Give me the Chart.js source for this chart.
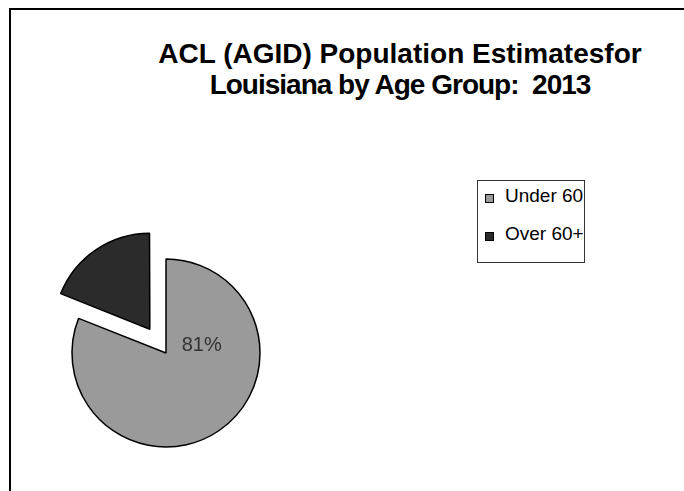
<!DOCTYPE html>
<html>
<head>
<meta charset="utf-8">
<title>ACL (AGID) Population Estimates for Louisiana by Age Group: 2013</title>
<script src="https://cdn.jsdelivr.net/npm/chart.js@4.4.1/dist/chart.umd.min.js"></script>
<style>
  html, body {
    margin: 0;
    padding: 0;
    background: #fff;
  }

  body {
    position: relative;
    width: 684px;
    height: 491px;
    overflow: hidden;
    font-family: "Liberation Sans", Arial, sans-serif;
  }

  .frame {
    position: absolute;
    left: 9px;
    top: 8px;
    width: 800px;
    height: 600px;
    border-left: 2px solid #000;
    border-top: 2px solid #000;
  }

  .chart-title {
    position: absolute;
    left: 0;
    top: 38px;
    width: 800px;
    text-align: center;
    font-weight: bold;
    font-size: 28px;
    line-height: 31px;
    color: #000;
    white-space: pre;
  }

  .chart-title .second {
    letter-spacing: -1px;
  }

  .pie-wrap {
    position: absolute;
    left: 11px;
    top: 142px;
    width: 310px;
    height: 422px;
  }

  .legend {
    position: absolute;
    left: 477px;
    top: 180px;
    width: 108px;
    height: 83px;
    border: 1px solid #333;
    padding-top: 5px;
    box-sizing: border-box;
  }

  .legend-item {
    position: relative;
    height: 20px;
    line-height: 20px;
    font-size: 19px;
    color: #000;
    padding-left: 27px;
    white-space: nowrap;
    margin-bottom: 18px;
  }

  .legend-box {
    position: absolute;
    left: 7px;
    top: 8px;
    width: 7px;
    height: 7px;
    border: 1px solid #000;
  }
</style>
</head>
<body>
<div class="frame"></div>
<div class="chart-title">ACL (AGID) Population Estimatesfor
<span class="second">Louisiana by Age Group:  2013</span></div>
<div class="pie-wrap"><canvas id="pieChart"></canvas></div>
<div class="legend" id="pieLegend"></div>

<script>
const ageGroups = ["Under 60", "Over 60+"];

const populationShare = [81, 19];

const sliceColors = ["#9a9a9a", "#2b2b2b"];

// label only the big slice, like the original slide
const percentLabel = {
  id: "percentLabel",
  afterDatasetsDraw(chart) {
    const ctx = chart.ctx;
    const arc = chart.getDatasetMeta(0).data[0];
    const total = populationShare.reduce((a, b) => a + b, 0);
    const text = Math.round((populationShare[0] / total) * 100) + "%";

    ctx.save();
    ctx.font = "20px 'Liberation Sans', Arial, sans-serif";
    ctx.fillStyle = "#333";
    ctx.textAlign = "center";
    ctx.textBaseline = "middle";
    ctx.fillText(
      text,
      arc.x + arc.outerRadius * 0.38,
      arc.y - arc.outerRadius * 0.08,
    );
    ctx.restore();
  },
};

const pieChart = new Chart(document.getElementById("pieChart"), {
  type: "pie",
  data: {
    labels: ageGroups,
    datasets: [
      {
        data: populationShare,
        backgroundColor: sliceColors,
        borderColor: "#000",
        borderWidth: 1.5,
        // chart.js moves an arc by about offset / 4, so this pulls the
        // small slice out ~30px
        offset: [0, 115],
      },
    ],
  },
  options: {
    responsive: true,
    maintainAspectRatio: false,
    animation: false,
    events: [],
    radius: 94,
    plugins: {
      legend: { display: false },
      tooltip: { enabled: false },
    },
  },
  plugins: [percentLabel],
});

function buildLegend(chart) {
  const legend = document.getElementById("pieLegend");
  legend.innerHTML = "";

  chart.data.labels.forEach((label, i) => {
    legend.innerHTML += `
      <div class="legend-item">
        <span class="legend-box" style="background:${chart.data.datasets[0].backgroundColor[i]}"></span>${label}
      </div>
    `;
  });
}

buildLegend(pieChart);
</script>
</body>
</html>
